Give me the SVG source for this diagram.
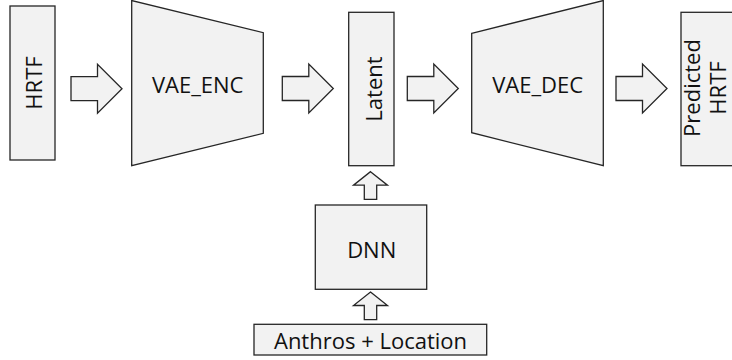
<svg xmlns="http://www.w3.org/2000/svg" xmlns:xlink="http://www.w3.org/1999/xlink" width="732" height="360" viewBox="0 0 732 360">
<style>
.box{fill:#f2f2f2;stroke:#262626;stroke-width:1.3}
.lbl{font-family:"Open Sans","Liberation Sans",sans-serif;font-size:22px;fill:#111111;text-anchor:middle;dominant-baseline:central}
</style>
<defs>
<path id="rarrow" class="box" d="M0,-12 H26.5 V-24.5 L51,0 L26.5,24.5 V12 H0 Z"/>
<path id="uarrow" class="box" d="M0,0 L17,13.5 H6.2 V27.6 H-6.2 V13.5 H-17 Z"/>
</defs>
<rect width="732" height="360" fill="#ffffff"/>
<g id="connectors">
<use xlink:href="#rarrow" href="#rarrow" transform="translate(71,88.7)"/>
<use xlink:href="#rarrow" href="#rarrow" transform="translate(282.3,88.5)"/>
<use xlink:href="#rarrow" href="#rarrow" transform="translate(407.3,88.5)"/>
<use xlink:href="#rarrow" href="#rarrow" transform="translate(616,88.5)"/>
<use xlink:href="#uarrow" href="#uarrow" transform="translate(370.5,171.7)"/>
<use xlink:href="#uarrow" href="#uarrow" transform="translate(370.5,292)"/>
</g>
<g id="hrtf">
<rect class="box" x="10" y="6" width="45" height="154"/>
<text class="lbl" transform="translate(33,83) rotate(-90)">HRTF</text>
</g>
<g id="vae_enc">
<path class="box" d="M131.7,0.5 L263.3,32.7 V133.3 L131.7,165.7 Z"/>
<text class="lbl" x="197.7" y="84">VAE_ENC</text>
</g>
<g id="latent">
<rect class="box" x="348.7" y="12.3" width="45.3" height="153.4"/>
<text class="lbl" transform="translate(372.5,89) rotate(-90)">Latent</text>
</g>
<g id="vae_dec">
<path class="box" d="M471.7,33.3 L603.3,0.5 V165.7 L471.7,132.7 Z"/>
<text class="lbl" x="537.7" y="84">VAE_DEC</text>
</g>
<g id="predicted_hrtf">
<rect class="box" x="681" y="12.3" width="60" height="153.4"/>
<text class="lbl" transform="translate(704,88) rotate(-90)"><tspan x="0" dy="-13">Predicted</tspan><tspan x="0" dy="26">HRTF</tspan></text>
</g>
<g id="dnn">
<rect class="box" x="315.3" y="205" width="111.4" height="84.3"/>
<text class="lbl" x="371.7" y="249">DNN</text>
</g>
<g id="anthros">
<rect class="box" x="254" y="324.3" width="232.7" height="30.7"/>
<text class="lbl" x="370.5" y="340">Anthros + Location</text>
</g>
</svg>
